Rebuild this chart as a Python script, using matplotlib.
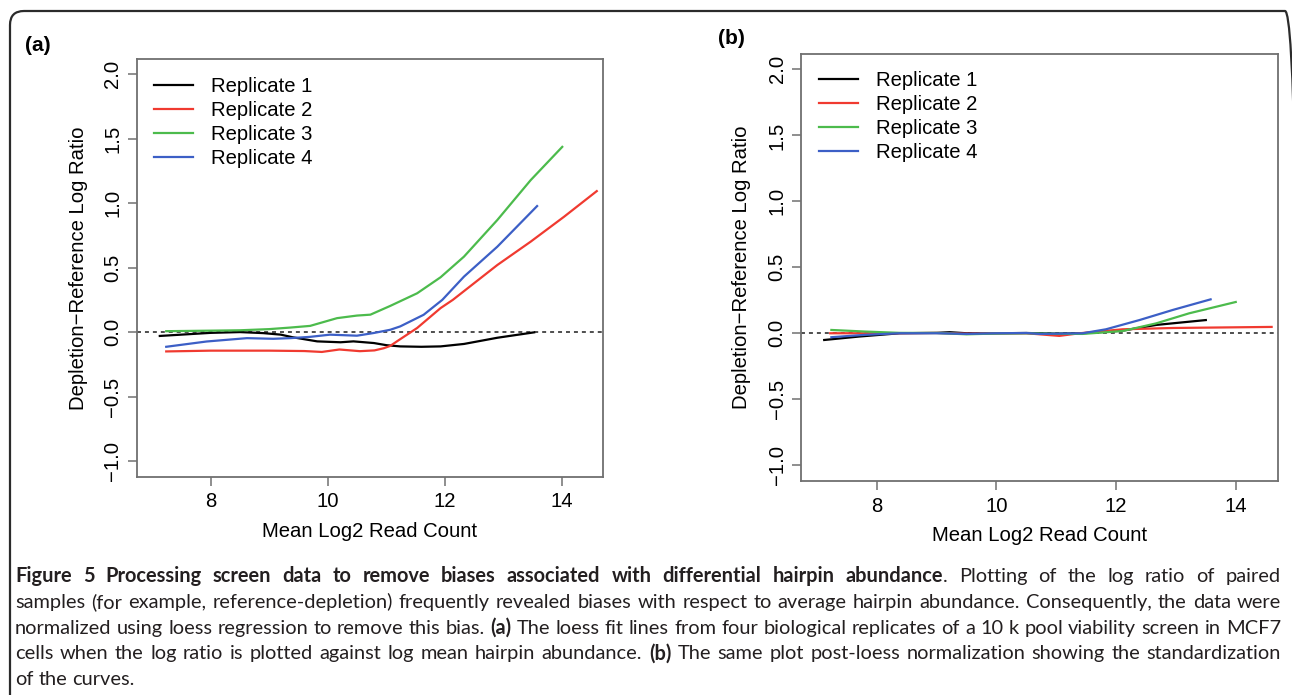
import matplotlib.pyplot as plt
from matplotlib.patches import FancyBboxPatch
from matplotlib.transforms import IdentityTransform

plt.rcParams['font.family'] = ['Liberation Sans', 'DejaVu Sans']

# legend labels and colours (R default palette 1..4)
labels = ['Replicate 1', 'Replicate 2', 'Replicate 3', 'Replicate 4']
colors = ['black', '#f03a30', '#4cbb4c', '#3c5fc6']

xticks = [8, 10, 12, 14]
yticks = [-1.0, -0.5, 0.0, 0.5, 1.0, 1.5, 2.0]

# (a) loess fit lines before normalization
a_x1 = [7.13, 7.6, 8.0, 8.5, 8.9, 9.2, 9.4, 9.82, 10.22, 10.44, 10.79, 11.01, 11.24, 11.6, 11.93, 12.33, 12.9, 13.53]
a_y1 = [-0.028, -0.015, -0.004, 0.002, -0.006, -0.018, -0.038, -0.070, -0.077, -0.070, -0.083, -0.100, -0.109, -0.112, -0.109, -0.090, -0.042, 0.0]
a_x2 = [7.24, 8.0, 9.0, 9.6, 9.9, 10.2, 10.55, 10.8, 10.96, 11.07, 11.2, 11.53, 11.93, 12.14, 12.9, 13.47, 14.04, 14.6]
a_y2 = [-0.148, -0.142, -0.142, -0.145, -0.152, -0.133, -0.146, -0.140, -0.123, -0.105, -0.065, 0.034, 0.188, 0.252, 0.522, 0.703, 0.896, 1.095]
a_x3 = [7.24, 8.0, 8.5, 9.0, 9.36, 9.7, 10.16, 10.5, 10.73, 11.07, 11.53, 11.93, 12.33, 12.9, 13.47, 14.01]
a_y3 = [0.009, 0.013, 0.016, 0.025, 0.037, 0.05, 0.110, 0.130, 0.137, 0.205, 0.303, 0.427, 0.587, 0.871, 1.18, 1.438]
a_x4 = [7.24, 7.93, 8.62, 9.07, 9.36, 9.7, 10.04, 10.5, 10.79, 11.07, 11.24, 11.64, 11.96, 12.33, 12.9, 13.58]
a_y4 = [-0.112, -0.071, -0.045, -0.05, -0.045, -0.035, -0.018, -0.026, -0.005, 0.02, 0.046, 0.136, 0.252, 0.432, 0.664, 0.979]

# (b) after loess normalization
b_x1 = [7.12, 7.7, 8.38, 9.0, 9.22, 9.5, 10.0, 10.5, 11.0, 11.44, 12.11, 12.67, 13.5]
b_y1 = [-0.051, -0.025, 0.0, 0.003, 0.008, 0.0, 0.0, 0.002, -0.003, 0.0, 0.02, 0.063, 0.10]
b_x2 = [7.22, 8.0, 9.0, 9.5, 10.0, 10.5, 11.05, 11.39, 12.11, 12.95, 14.6]
b_y2 = [0.0, 0.0, 0.002, -0.003, 0.0, 0.0, -0.02, 0.0, 0.03, 0.04, 0.048]
b_x3 = [7.24, 7.8, 8.38, 9.0, 9.5, 10.0, 10.5, 11.0, 11.44, 12.11, 12.67, 13.22, 14.0]
b_y3 = [0.025, 0.013, 0.003, 0.002, -0.008, -0.002, 0.0, -0.004, -0.005, 0.017, 0.075, 0.151, 0.237]
b_x4 = [7.24, 7.8, 8.38, 9.0, 9.5, 10.0, 10.5, 10.72, 11.44, 11.83, 12.39, 12.95, 13.58]
b_y4 = [-0.03, -0.012, 0.0, 0.0, -0.005, 0.0, 0.002, -0.005, 0.0, 0.03, 0.10, 0.177, 0.257]

xlabel = 'Mean Log2 Read Count'
ylabel = 'Depletion\u2212Reference Log Ratio'

caption = [
    [("Figure 5 Processing screen data to remove biases associated with differential hairpin abundance", "bold"),
     (". Plotting of the log ratio of paired", "normal")],
    [("samples (for example, reference-depletion) frequently revealed biases with respect to average hairpin abundance. Consequently, the data were", "normal")],
    [("normalized using loess regression to remove this bias. ", "normal"), ("(a)", "bold"),
     (" The loess fit lines from four biological replicates of a 10 k pool viability screen in MCF7", "normal")],
    [("cells when the log ratio is plotted against log mean hairpin abundance. ", "normal"), ("(b)", "bold"),
     (" The same plot post-loess normalization showing the standardization", "normal")],
    [("of the curves.", "normal")],
]

W, H = 1292, 695
fig = plt.figure(figsize=(W / 100, H / 100), dpi=100)
FS = 14.6
GRAY = '#707070'


def px_axes(l, t, r, b):
    return fig.add_axes([l / W, 1 - b / H, (r - l) / W, (b - t) / H])


def draw_panel(ax, xs, ys, leg_xy, ylab_x, xlab_y):
    for x, y, c, lab in zip(xs, ys, colors, labels):
        ax.plot(x, y, color=c, lw=1.6, label=lab)
    ax.axhline(0, color='#404040', lw=1.3, ls=(0, (2.2, 2.2)), zorder=0)
    ax.set_xlim(6.737, 14.71)
    ax.set_ylim(-1.12, 2.12)
    ax.set_xticks(xticks)
    ax.set_xticklabels([str(v) for v in xticks])
    ax.set_yticks(yticks)
    ax.set_yticklabels(['{:.1f}'.format(v).replace('-', '\u2212') for v in yticks],
                       rotation=90, va='center')
    ax.tick_params(length=6.5, width=1.1, color=GRAY, labelsize=FS)
    ax.tick_params(axis='x', pad=4.8)
    ax.tick_params(axis='y', pad=4.0)
    for s in ax.spines.values():
        s.set_color(GRAY)
        s.set_linewidth(1.3)
    ax.set_xlabel(xlabel, fontsize=FS, va='center')
    ax.set_ylabel(ylabel, fontsize=FS, va='center')
    ax.xaxis.set_label_coords(0.5, xlab_y)
    ax.yaxis.set_label_coords(ylab_x, 0.5)
    ax.legend(loc='upper left', bbox_to_anchor=leg_xy, frameon=False, fontsize=FS,
              borderpad=0, borderaxespad=0, handlelength=1.9, handletextpad=0.9,
              labelspacing=0.25)


ax_a = px_axes(136.8, 58.9, 603.2, 476.8)
draw_panel(ax_a, [a_x1, a_x2, a_x3, a_x4], [a_y1, a_y2, a_y3, a_y4],
           (0.037, 0.957), -0.1244, -0.132)

ax_b = px_axes(801.3, 53.6, 1278.2, 481)
draw_panel(ax_b, [b_x1, b_x2, b_x3, b_x4], [b_y1, b_y2, b_y3, b_y4],
           (0.038, 0.960), -0.1246, -0.128)

fig.text(25 / W, 1 - 51 / H, '(a)', fontsize=15, fontweight='bold', va='baseline')
fig.text(718 / W, 1 - 44 / H, '(b)', fontsize=15, fontweight='bold', va='baseline')

# rounded frame around the whole figure (pixel coordinates), right side runs off the page
frame = FancyBboxPatch((10, -30), 1289, 714, boxstyle='round,pad=0,rounding_size=14',
                       transform=IdentityTransform(), fill=False, lw=1.6, ec='#2b2b2b')
fig.add_artist(frame)


# caption, justified word by word
def split_words(segments):
    words, cur = [], []
    for text, wt in segments:
        parts = text.split(' ')
        for i, p in enumerate(parts):
            if i > 0 and cur:
                words.append(cur)
                cur = []
            if p:
                cur.append((p, wt))
    if cur:
        words.append(cur)
    return words


renderer = fig.canvas.get_renderer()
cap_font = ['Lato', 'DejaVu Sans']
x0, x1 = 15.0, 1281.0


def width_of(s, size, wt='normal'):
    t = fig.text(0, 0, s, fontsize=size, family=cap_font, fontweight=wt)
    w = t.get_window_extent(renderer).width
    t.remove()
    return w


# pick the caption size so the widest justified line just fits with plain spaces
base = 10.0
base_space = width_of('a a', base) - width_of('aa', base)
scale = 10.0
for segs in caption[:-1]:
    words = split_words(segs)
    nat = sum(width_of(s, base, wt) for w in words for s, wt in w) + base_space * (len(words) - 1)
    scale = min(scale, (x1 - x0) / nat)
cap_fs = base * scale
space_w = base_space * scale

for li, segs in enumerate(caption):
    y = 1 - (582 + li * 25.8) / H
    words = split_words(segs)
    runs = []
    total = 0
    for w in words:
        wr = []
        for s, wt in w:
            t = fig.text(0, y, s, fontsize=cap_fs, family=cap_font, fontweight=wt,
                         color='#231f20', va='baseline')
            wd = t.get_window_extent(renderer).width
            wr.append((t, wd))
            total += wd
        runs.append(wr)
    if li < len(caption) - 1:
        gap = (x1 - x0 - total) / (len(runs) - 1)
    else:
        gap = space_w
    x = x0
    for wr in runs:
        for t, wd in wr:
            t.set_x(x / W)
            x += wd
        x += gap

fig.savefig('out.png', dpi=100)
